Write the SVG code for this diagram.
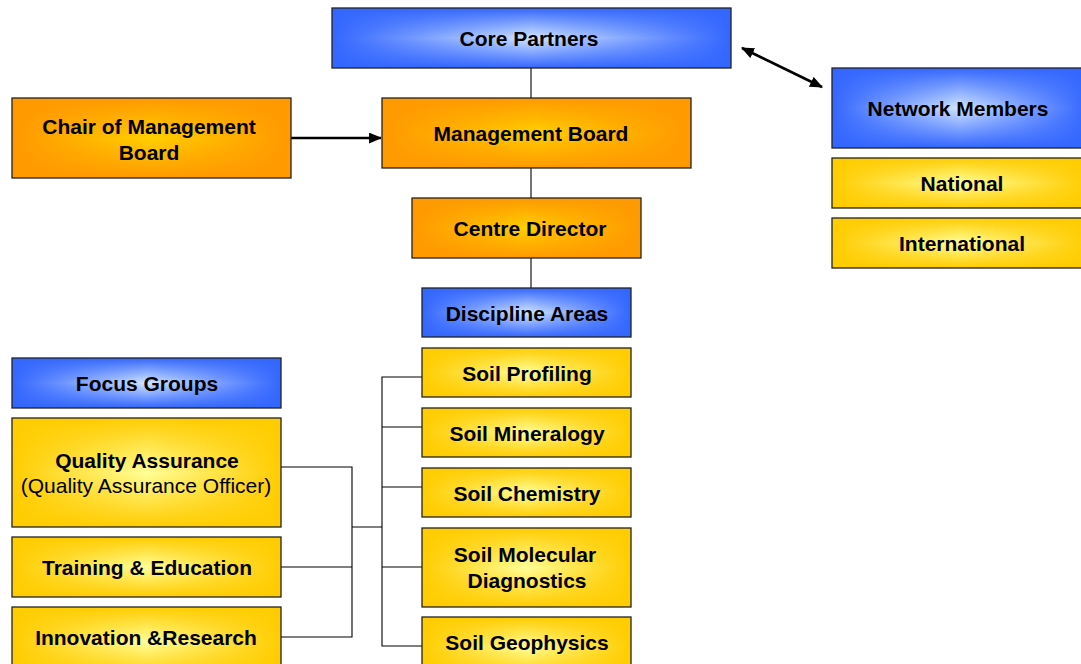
<svg xmlns="http://www.w3.org/2000/svg" width="1081" height="664" viewBox="0 0 1081 664">
<defs>
<linearGradient id="bh" x1="0" y1="0" x2="1" y2="0"><stop offset="0" stop-color="#3366FF"/><stop offset="0.5" stop-color="#D2E6FF"/><stop offset="1" stop-color="#3366FF"/></linearGradient>
<linearGradient id="bv" x1="0" y1="0" x2="0" y2="1"><stop offset="0" stop-color="#3366FF" stop-opacity="1"/><stop offset="0.5" stop-color="#3366FF" stop-opacity="0"/><stop offset="1" stop-color="#3366FF" stop-opacity="1"/></linearGradient>
<linearGradient id="oh" x1="0" y1="0" x2="1" y2="0"><stop offset="0" stop-color="#FF9900"/><stop offset="0.5" stop-color="#FFD000"/><stop offset="1" stop-color="#FF9900"/></linearGradient>
<linearGradient id="ov" x1="0" y1="0" x2="0" y2="1"><stop offset="0" stop-color="#FF9900" stop-opacity="1"/><stop offset="0.5" stop-color="#FF9900" stop-opacity="0"/><stop offset="1" stop-color="#FF9900" stop-opacity="1"/></linearGradient>
<linearGradient id="yh" x1="0" y1="0" x2="1" y2="0"><stop offset="0" stop-color="#FFCC00"/><stop offset="0.5" stop-color="#FFFF99"/><stop offset="1" stop-color="#FFCC00"/></linearGradient>
<linearGradient id="yv" x1="0" y1="0" x2="0" y2="1"><stop offset="0" stop-color="#FFCC00" stop-opacity="1"/><stop offset="0.5" stop-color="#FFCC00" stop-opacity="0"/><stop offset="1" stop-color="#FFCC00" stop-opacity="1"/></linearGradient>
<marker id="ah" viewBox="0 0 12 10" refX="11" refY="5" markerWidth="13" markerHeight="11" markerUnits="userSpaceOnUse" orient="auto-start-reverse"><path d="M0,0 L12,5 L0,10 z" fill="#000"/></marker>
</defs>
<style>
.b1{fill:url(#bh)}.b2{fill:url(#bv)}
.o1{fill:url(#oh)}.o2{fill:url(#ov)}
.y1{fill:url(#yh)}.y2{fill:url(#yv)}
.bd{fill:none;stroke:#222;stroke-width:1.3}
text{font-family:"Liberation Sans",Arial,sans-serif;font-size:21px;font-weight:bold;fill:#000;text-anchor:middle}
.reg{font-weight:normal}
.ln{fill:none;stroke:#000;stroke-width:1.1}
.ar{fill:none;stroke:#000;stroke-width:2.6}
</style>
<g id="connectors">
<line class="ln" x1="531" y1="68" x2="531" y2="98"/>
<line class="ln" x1="531" y1="168" x2="531" y2="198"/>
<line class="ln" x1="531" y1="258" x2="531" y2="288"/>
<line class="ar" x1="291" y1="138" x2="381" y2="138" marker-end="url(#ah)"/>
<line class="ar" x1="742" y1="48" x2="822" y2="87" marker-start="url(#ah)" marker-end="url(#ah)"/>
<path class="ln" d="M422,377 H382 V646 H422 M382,427 H422 M382,487 H422 M382,567 H422"/>
<path class="ln" d="M281,467 H352 V637 H281 M281,567 H352 M352,527 H382"/>
</g>
<g id="core-partners"><rect class="b1" x="332" y="8" width="399" height="60"/><rect class="b2" x="332" y="8" width="399" height="60"/><rect class="bd" x="332" y="8" width="399" height="60"/><text x="529" y="45.5">Core Partners</text></g>
<g id="chair"><rect class="o1" x="12" y="98" width="279" height="80"/><rect class="o2" x="12" y="98" width="279" height="80"/><rect class="bd" x="12" y="98" width="279" height="80"/><text x="149" y="133.5">Chair of Management</text><text x="149" y="159.5">Board</text></g>
<g id="management-board"><rect class="o1" x="382" y="98" width="309" height="70"/><rect class="o2" x="382" y="98" width="309" height="70"/><rect class="bd" x="382" y="98" width="309" height="70"/><text x="531" y="141">Management Board</text></g>
<g id="centre-director"><rect class="o1" x="412" y="198" width="229" height="60"/><rect class="o2" x="412" y="198" width="229" height="60"/><rect class="bd" x="412" y="198" width="229" height="60"/><text x="530" y="236">Centre Director</text></g>
<g id="discipline-areas"><rect class="b1" x="422" y="288" width="209" height="49"/><rect class="b2" x="422" y="288" width="209" height="49"/><rect class="bd" x="422" y="288" width="209" height="49"/><text x="527" y="321">Discipline Areas</text></g>
<g id="network-members"><rect class="b1" x="832" y="68" width="256" height="80"/><rect class="b2" x="832" y="68" width="256" height="80"/><rect class="bd" x="832" y="68" width="256" height="80"/><text x="958" y="116">Network Members</text></g>
<g id="national"><rect class="y1" x="832" y="158" width="256" height="50"/><rect class="y2" x="832" y="158" width="256" height="50"/><rect class="bd" x="832" y="158" width="256" height="50"/><text x="962" y="191">National</text></g>
<g id="international"><rect class="y1" x="832" y="218" width="256" height="50"/><rect class="y2" x="832" y="218" width="256" height="50"/><rect class="bd" x="832" y="218" width="256" height="50"/><text x="962" y="251">International</text></g>
<g id="focus-groups"><rect class="b1" x="12" y="358" width="269" height="50"/><rect class="b2" x="12" y="358" width="269" height="50"/><rect class="bd" x="12" y="358" width="269" height="50"/><text x="147" y="391">Focus Groups</text></g>
<g id="quality-assurance"><rect class="y1" x="12" y="418" width="269" height="109"/><rect class="y2" x="12" y="418" width="269" height="109"/><rect class="bd" x="12" y="418" width="269" height="109"/><text x="147" y="468">Quality Assurance</text><text class="reg" x="146" y="493">(Quality Assurance Officer)</text></g>
<g id="training"><rect class="y1" x="12" y="537" width="269" height="60"/><rect class="y2" x="12" y="537" width="269" height="60"/><rect class="bd" x="12" y="537" width="269" height="60"/><text x="147" y="575">Training &amp; Education</text></g>
<g id="innovation"><rect class="y1" x="12" y="607" width="269" height="70"/><rect class="y2" x="12" y="607" width="269" height="70"/><rect class="bd" x="12" y="607" width="269" height="70"/><text x="146" y="645">Innovation &amp;Research</text></g>
<g id="soil-profiling"><rect class="y1" x="422" y="348" width="209" height="49"/><rect class="y2" x="422" y="348" width="209" height="49"/><rect class="bd" x="422" y="348" width="209" height="49"/><text x="527" y="381">Soil Profiling</text></g>
<g id="soil-mineralogy"><rect class="y1" x="422" y="408" width="209" height="49"/><rect class="y2" x="422" y="408" width="209" height="49"/><rect class="bd" x="422" y="408" width="209" height="49"/><text x="527" y="441">Soil Mineralogy</text></g>
<g id="soil-chemistry"><rect class="y1" x="422" y="468" width="209" height="49"/><rect class="y2" x="422" y="468" width="209" height="49"/><rect class="bd" x="422" y="468" width="209" height="49"/><text x="527" y="501">Soil Chemistry</text></g>
<g id="soil-molecular"><rect class="y1" x="422" y="528" width="209" height="79"/><rect class="y2" x="422" y="528" width="209" height="79"/><rect class="bd" x="422" y="528" width="209" height="79"/><text x="525" y="561.5">Soil Molecular</text><text x="527" y="587.5">Diagnostics</text></g>
<g id="soil-geophysics"><rect class="y1" x="422" y="617" width="209" height="60"/><rect class="y2" x="422" y="617" width="209" height="60"/><rect class="bd" x="422" y="617" width="209" height="60"/><text x="527" y="650">Soil Geophysics</text></g>
</svg>
